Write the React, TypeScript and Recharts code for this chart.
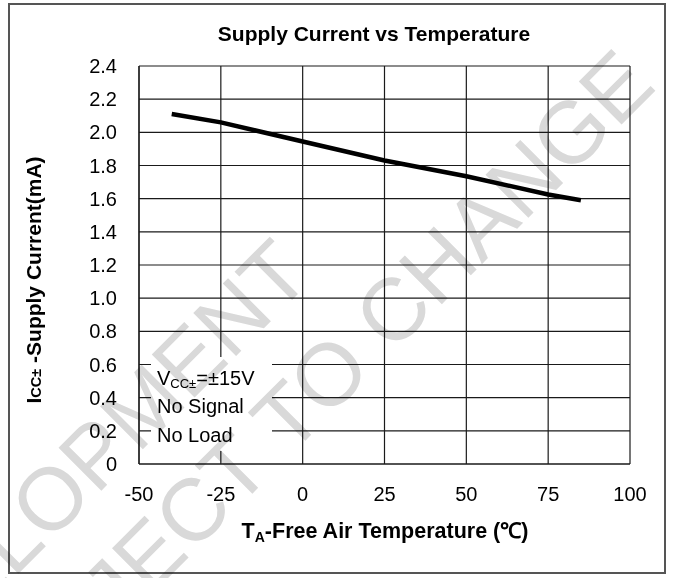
import { CartesianGrid, Line, LineChart, XAxis, YAxis } from "recharts";

// supply current vs free-air temperature
const temps = [-40, -25, 0, 25, 50, 75, 85];
const supplyCurrent = [2.11, 2.06, 1.945, 1.83, 1.735, 1.625, 1.59];

const xTicks = [-50, -25, 0, 25, 50, 75, 100];
const yTicks = [0, 0.2, 0.4, 0.6, 0.8, 1.0, 1.2, 1.4, 1.6, 1.8, 2.0, 2.2, 2.4];

const conditions = ["No Signal", "No Load"];

const FONT = '"Liberation Sans", Arial, sans-serif';
const GRID = "#1a1a1a";

const data = temps.map((t, i) => ({ temp: t, current: supplyCurrent[i] }));

export default function App() {
  return (
    <div
      style={{
        position: "absolute",
        left: 0,
        top: 0,
        width: 673,
        height: 578,
        background: "#fff",
        fontFamily: FONT,
        overflow: "hidden",
      }}
    >
      <div style={{ position: "absolute", left: 0, top: 0 }}>
        <LineChart
          width={673}
          height={578}
          data={data}
          margin={{ top: 66, right: 43, bottom: 84, left: 79 }}
        >
          <CartesianGrid stroke={GRID} strokeWidth={1.2} />
          <XAxis
            type="number"
            dataKey="temp"
            domain={[-50, 100]}
            ticks={xTicks}
            interval={0}
            height={30}
            axisLine={{ stroke: GRID, strokeWidth: 1.2 }}
            tickLine={false}
            tickSize={0}
            tickMargin={23}
            tick={{ fill: "#000", fontSize: 20, fontFamily: FONT }}
          />
          <YAxis
            type="number"
            domain={[0, 2.4]}
            ticks={yTicks}
            interval={0}
            width={60}
            axisLine={{ stroke: GRID, strokeWidth: 1.2 }}
            tickLine={false}
            tickSize={0}
            tickMargin={22}
            tick={{ fill: "#000", fontSize: 20, fontFamily: FONT }}
            tickFormatter={(v: number) => (v === 0 ? "0" : v.toFixed(1))}
          />
          <Line
            type="linear"
            dataKey="current"
            stroke="#000"
            strokeWidth={4.5}
            dot={false}
            isAnimationActive={false}
          />
        </LineChart>
      </div>

      <svg
        width={673}
        height={578}
        style={{ position: "absolute", left: 0, top: 0, pointerEvents: "none" }}
      >
        <rect x={9} y={4} width={656} height={569} fill="none" stroke="#555" strokeWidth={2} />

        <text x={374} y={41} textAnchor="middle" fontSize={21} fontWeight="bold" fill="#000">
          Supply Current vs Temperature
        </text>

        {/* condition box sits over the grid */}
        <rect x={151} y={357} width={121} height={94} fill="#fff" />
        <text x={157} y={385} fontSize={20} fill="#000">
          V
          <tspan fontSize={13} dy={3}>CC±</tspan>
          <tspan dy={-3}>=±15V</tspan>
        </text>
        {conditions.map((c, i) => (
          <text key={c} x={157} y={413 + i * 29} fontSize={20} fill="#000">
            {c}
          </text>
        ))}

        <text x={385} y={538} textAnchor="middle" fontSize={21.5} fontWeight="bold" fill="#000">
          T<tspan fontSize={14} dy={4}>A</tspan>
          <tspan dy={-4}>-Free Air Temperature (℃)</tspan>
        </text>

        <text
          transform="translate(41 280) rotate(-90)"
          textAnchor="middle"
          fontSize={21}
          fontWeight="bold"
          fill="#000"
        >
          I<tspan fontSize={14.5}>CC±</tspan> -Supply Current(mA)
        </text>
      </svg>

      {/* watermark */}
      <svg
        width={673}
        height={578}
        style={{ position: "absolute", left: 0, top: 0, pointerEvents: "none", mixBlendMode: "multiply" }}
      >
        <g fill="#d9d9d9" fontSize={88} fontFamily={FONT}>
          <text transform="translate(314 278) rotate(-45)" textAnchor="end">
            DEVELOPMENT
          </text>
          <text transform="translate(658 88) rotate(-45)" textAnchor="end">
            SUBJECT TO CHANGE
          </text>
        </g>
      </svg>
    </div>
  );
}
